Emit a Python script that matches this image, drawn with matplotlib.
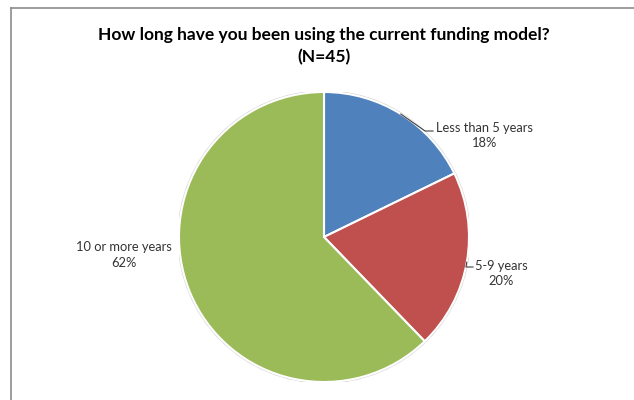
import numpy as np
import matplotlib
matplotlib.use("Agg")
import matplotlib.pyplot as plt
from matplotlib.lines import Line2D

categories = ["Less than 5 years", "5-9 years", "10 or more years"]
counts = [8, 9, 28]
pct_labels = ["18%", "20%", "62%"]
colors = ["#4F81BD", "#C0504D", "#9BBB59"]
title = "How long have you been using the current funding model?\n(N=45)"

W, H = 634, 400
fig = plt.figure(figsize=(W / 100, H / 100), dpi=100)
plt.rcParams['font.family'] = ['Lato', 'DejaVu Sans']

# frame (cropped chart border)
fig.add_artist(Line2D([10.5 / W, 10.5 / W], [0, 1 - 7.5 / H], color="#8c8c8c", lw=1.2))
fig.add_artist(Line2D([10.5 / W, 1], [1 - 7.5 / H, 1 - 7.5 / H], color="#8c8c8c", lw=1.2))

cx, cy, r = 324, 237, 145
ax = fig.add_axes([(cx - r) / W, (H - cy - r) / H, 2 * r / W, 2 * r / H])
wedges, _ = ax.pie(counts, colors=colors, startangle=90, counterclock=False,
                   radius=1, wedgeprops=dict(edgecolor="white", linewidth=1.5))
ax.add_patch(plt.Circle((0, 0), 1.006, fill=False, edgecolor="#d0d0d0", lw=1.0, zorder=0))
ax.set_xlim(-1, 1)
ax.set_ylim(-1, 1)
ax.set_aspect("equal")
ax.axis("off")

fig.text(cx / W, 1 - 46 / H, title, ha="center", va="center", fontsize=12.5,
         fontweight="bold", linespacing=1.45, color="#000000")

label_pos = [(1.11, 0.70), (1.22, -0.25), (-1.38, -0.124)]
# leader: (knee x, end x, y) in axes data units
leaders = [(0.697, 0.752, 0.731), (0.979, 1.028, -0.207), None]
for w, cat, p, (lx, ly), ld in zip(wedges, categories, pct_labels, label_pos, leaders):
    mid = np.deg2rad((w.theta1 + w.theta2) / 2)
    ex, ey = np.cos(mid), np.sin(mid)
    ax.text(lx, ly, f"{cat}\n{p}", ha="center", va="center", fontsize=9.3,
            color="#333333", linespacing=1.35, clip_on=False)
    if ld is not None:
        kx, hx, hy = ld
        ax.plot([ex, kx, hx], [ey, hy, hy], color="#404040", lw=0.8, clip_on=False)

fig.savefig("out.png", dpi=100, facecolor="white")
